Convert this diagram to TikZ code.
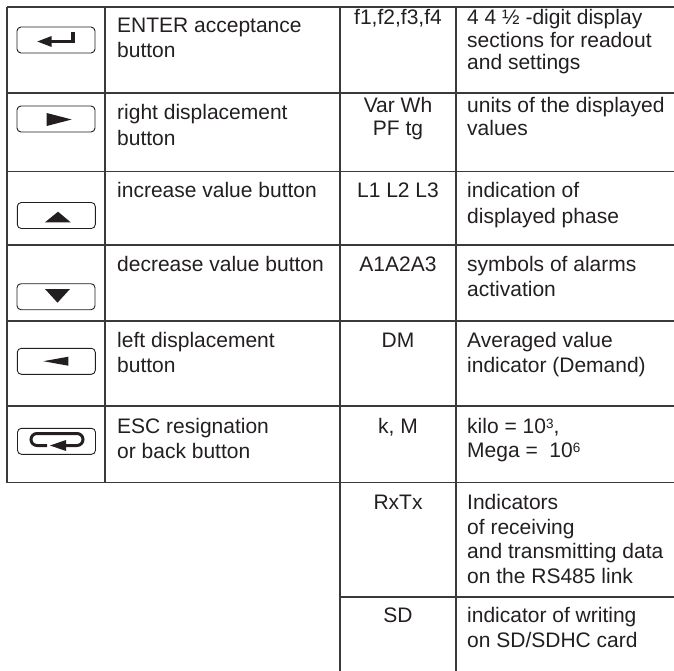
\documentclass[tikz,border=0pt]{standalone}
\usepackage{fontspec}
\setmainfont{Liberation Sans}
\definecolor{ink}{HTML}{231F20}
\definecolor{rule}{HTML}{3A3A3A}
\newcommand{\supnum}[1]{\raisebox{5pt}{\fontsize{13.5}{13.5}\selectfont #1}}
\tikzset{
  txt/.style={anchor=base west, inner sep=0pt, text=ink, font=\fontsize{21}{25}\selectfont},
  ctr/.style={anchor=base, inner sep=0pt, text=ink, font=\fontsize{21}{25}\selectfont},
  grid/.style={draw=rule, line width=1.8pt},
  btn/.style={draw=ink, line width=0.9pt, rounded corners=4pt, minimum width=78pt, minimum height=26pt, inner sep=0pt},
  glyph/.style={fill=ink, draw=none},
  stroke/.style={draw=ink, line width=3pt}
}
\begin{document}
\begin{tikzpicture}[x=1pt,y=-1pt]
\useasboundingbox (0,0) rectangle (674,671);
% grid
\draw[grid] (7,7) -- (674,7);
\foreach \yy in {93,171.5,245,321,406,482.5} \draw[grid] (7,\yy) -- (674,\yy);
\draw[grid] (340,597) -- (674,597);
\draw[grid] (7,7) -- (7,482.5);
\draw[grid] (105,7) -- (105,482.5);
\draw[grid] (340,7) -- (340,671);
\draw[grid] (456,7) -- (456,671);

% buttons
\node[btn] (bent) at (56,40) {};
\draw[stroke, line width=3.5pt] (73,32.3) -- (73,41.5);
\draw[stroke] (74.7,41.5) -- (50,41.5);
\fill[glyph] (37.3,41.5) -- (51.7,36) -- (51.7,47) -- cycle;

\node[btn] (bright) at (56,119) {};
\fill[glyph] (71.7,119.5) -- (46.7,113) -- (46.7,126) -- cycle;

\node[btn] (bup) at (56.3,215.5) {};
\fill[glyph] (58,211.7) -- (45,222.3) -- (70.7,222.3) -- cycle;

\node[btn] (bdown) at (56,296.7) {};
\fill[glyph] (45,289) -- (70,289) -- (57.5,302.7) -- cycle;

\node[btn] (bleft) at (56.3,361.3) {};
\fill[glyph] (43.3,361.2) -- (68.3,356.7) -- (68.3,365.7) -- cycle;

\node[btn] (besc) at (56.5,441.3) {};
\draw[stroke, line cap=butt] (47,445.5) -- (37,445.5) arc[start angle=90, end angle=270, radius=6pt, y radius=-6pt] -- (77,433.5) arc[start angle=-90, end angle=90, radius=6pt, y radius=-6pt] -- (64,445.5);
\fill[glyph] (50,445.5) -- (66,440) -- (66,451) -- cycle;

% column 2
\node[txt] (t1a) at (117,33) {ENTER acceptance};
\node[txt] (t1b) at (117,58) {button};
\node[txt] (t2a) at (117,120) {right displacement};
\node[txt] (t2b) at (117,145.5) {button};
\node[txt] (t3a) at (117,197) {increase value button};
\node[txt] (t4a) at (117,271.7) {decrease value button};
\node[txt] (t5a) at (117,347) {left displacement};
\node[txt] (t5b) at (117,372.5) {button};
\node[txt] (t6a) at (117,433) {ESC resignation};
\node[txt] (t6b) at (117,458) {or back button};

% column 3
\node[ctr] (s1) at (398,25) {f1,f2,f3,f4};
\node[ctr] (s2a) at (398,113) {Var Wh};
\node[ctr] (s2b) at (398,136) {PF tg};
\node[ctr] (s3) at (398,197) {L1 L2 L3};
\node[ctr] (s4) at (398,271.7) {A1A2A3};
\node[ctr] (s5) at (398,347) {DM};
\node[ctr] (s6) at (398,433) {k, M};
\node[ctr] (s7) at (398,509.3) {RxTx};
\node[ctr] (s8) at (398,622.7) {SD};

% column 4
\node[txt] (d1a) at (467,25) {4 4 ½ -digit display};
\node[txt] (d1b) at (467,47.5) {sections for readout};
\node[txt] (d1c) at (467,69.3) {and settings};
\node[txt] (d2a) at (467,113) {units of the displayed};
\node[txt] (d2b) at (467,136) {values};
\node[txt] (d3a) at (467,197) {indication of};
\node[txt] (d3b) at (467,223) {displayed phase};
\node[txt] (d4a) at (467,271.7) {symbols of alarms};
\node[txt] (d4b) at (467,296.7) {activation};
\node[txt] (d5a) at (467,347) {Averaged value};
\node[txt] (d5b) at (467,372) {indicator (Demand)};
\node[txt] (d6a) at (467,433) {kilo = 10\supnum{3},};
\node[txt] (d6b) at (467,457.7) {Mega =\ \ 10\supnum{6}};
\node[txt] (d7a) at (467,509.3) {Indicators};
\node[txt] (d7b) at (467,534) {of receiving};
\node[txt] (d7c) at (467,558.5) {and transmitting data};
\node[txt] (d7d) at (467,583) {on the RS485 link};
\node[txt] (d8a) at (467,622.7) {indicator of writing};
\node[txt] (d8b) at (467,647) {on SD/SDHC card};
\end{tikzpicture}
\end{document}
